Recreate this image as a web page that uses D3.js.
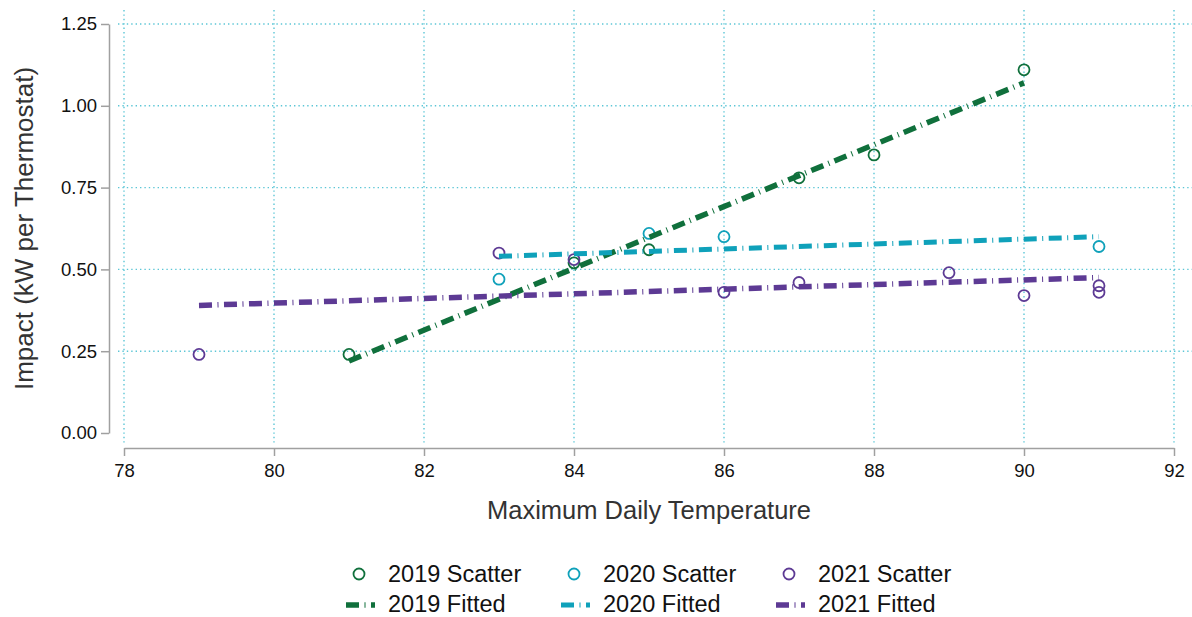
<!DOCTYPE html>
<html>
<head>
<meta charset="utf-8">
<script src="https://cdn.jsdelivr.net/npm/d3@7"></script>
<style>
  body { margin: 0; background: #fff; }
  text { font-family: "Liberation Sans", Arial, sans-serif; }
</style>
</head>
<body>
<div id="chart"></div>
<script>
const width = 1192,
    height = 617

const colors = {
    y2019: "#10703c",
    y2020: "#0fa1ba",
    y2021: "#5d3a94",
    grid: "#5cc6d6",
    axis: "#a0a0a0"
}

// scatter points per year: [temperature, impact]
const scatter2019 = [[81, 0.24], [84, 0.52], [85, 0.56], [87, 0.78], [88, 0.85], [90, 1.11]]
const scatter2020 = [[83, 0.47], [85, 0.61], [86, 0.60], [91, 0.57]]
const scatter2021 = [[79, 0.24], [83, 0.55], [84, 0.53], [86, 0.43], [87, 0.46], [89, 0.49], [90, 0.42], [91, 0.45], [91, 0.43]]

// fitted line endpoints
const fitted2019 = [[81, 0.22], [90, 1.07]]
const fitted2020 = [[83, 0.54], [91, 0.60]]
const fitted2021 = [[79, 0.39], [91, 0.475]]

const xTicks = [78, 80, 82, 84, 86, 88, 90, 92]
const yTicks = [0, 0.25, 0.5, 0.75, 1.0, 1.25]

const series = [
    { name: "2019", color: colors.y2019, pts: scatter2019, fit: fitted2019, w: 5.5 },
    { name: "2020", color: colors.y2020, pts: scatter2020, fit: fitted2020, w: 5 },
    { name: "2021", color: colors.y2021, pts: scatter2021, fit: fitted2021, w: 5.5 }
]

const x = d3.scaleLinear().domain([78, 92]).range([124, 1174])
const y = d3.scaleLinear().domain([0, 1.25]).range([433, 24])

const svg = d3.select("#chart")
    .append("svg")
        .attr("width", width)
        .attr("height", height)

// grid
svg.append("g").selectAll("line")
    .data(yTicks.filter(d => d > 0))
    .join("line")
        .attr("x1", 118).attr("x2", width)
        .attr("y1", d => y(d)).attr("y2", d => y(d))
        .attr("stroke", colors.grid)
        .attr("stroke-width", 1.4)
        .attr("stroke-dasharray", "1.4 3")

svg.append("g").selectAll("line")
    .data(xTicks)
    .join("line")
        .attr("x1", d => x(d)).attr("x2", d => x(d))
        .attr("y1", 10).attr("y2", 443)
        .attr("stroke", colors.grid)
        .attr("stroke-width", 1.4)
        .attr("stroke-dasharray", "1.4 3")

// axes
const xAxis = svg.append("g")
    .attr("transform", "translate(0,448)")
    .call(d3.axisBottom(x).tickValues(xTicks).tickSize(8).tickPadding(8).tickSizeOuter(0))
const yAxis = svg.append("g")
    .attr("transform", "translate(109,0)")
    .call(d3.axisLeft(y).tickValues(yTicks).tickFormat(d3.format(".2f")).tickSize(8).tickPadding(4).tickSizeOuter(0))

;[xAxis, yAxis].forEach(a => {
    a.select(".domain").attr("stroke", colors.axis).attr("stroke-width", 1.5)
    a.selectAll(".tick line").attr("stroke", colors.axis).attr("stroke-width", 1.5)
    a.selectAll(".tick text")
        .attr("fill", "#111")
        .style("font-size", "18.5px")
        .style("font-family", "'Liberation Sans', Arial, sans-serif")
})

svg.append("text")
    .attr("x", x(85)).attr("y", 519)
    .attr("text-anchor", "middle")
    .attr("fill", "#333")
    .style("font-size", "25.5px")
    .text("Maximum Daily Temperature")

svg.append("text")
    .attr("transform", `translate(33,${y(0.625)}) rotate(-90)`)
    .attr("text-anchor", "middle")
    .attr("fill", "#333")
    .style("font-size", "26px")
    .text("Impact (kW per Thermostat)")

// scatter
series.forEach(s => {
    svg.append("g").selectAll("circle")
        .data(s.pts)
        .join("circle")
            .attr("cx", d => x(d[0]))
            .attr("cy", d => y(d[1]))
            .attr("r", 5.5)
            .attr("fill", "none")
            .attr("stroke", s.color)
            .attr("stroke-width", 1.8)
})

// fitted lines
const line = d3.line().x(d => x(d[0])).y(d => y(d[1]))
const dash = "13 5.5 1 5.5"
series.forEach(s => {
    svg.append("path")
        .datum(s.fit)
        .attr("d", line)
        .attr("fill", "none")
        .attr("stroke", s.color)
        .attr("stroke-width", s.w)
        .attr("stroke-dasharray", dash)
})

// legend
const legendCols = [359, 574, 789]
series.forEach((s, i) => {
    const cx = legendCols[i]
    svg.append("circle")
        .attr("cx", cx).attr("cy", 574)
        .attr("r", 5.5)
        .attr("fill", "none")
        .attr("stroke", s.color)
        .attr("stroke-width", 1.8)
    svg.append("text")
        .attr("x", cx + 29).attr("y", 582)
        .attr("fill", "#111")
        .style("font-size", "23.5px")
        .text(s.name + " Scatter")

    svg.append("line")
        .attr("x1", cx - 13).attr("x2", cx + 16)
        .attr("y1", 605).attr("y2", 605)
        .attr("stroke", s.color)
        .attr("stroke-width", s.w)
        .attr("stroke-dasharray", dash)
    svg.append("text")
        .attr("x", cx + 29).attr("y", 612)
        .attr("fill", "#111")
        .style("font-size", "23.5px")
        .text(s.name + " Fitted")
})
</script>
</body>
</html>
